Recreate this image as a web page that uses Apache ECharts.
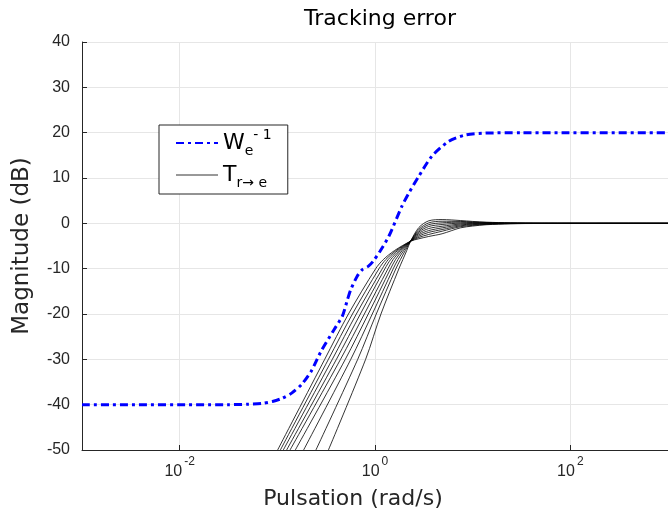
<!DOCTYPE html>
<html><head><meta charset="utf-8">
<script src="https://cdn.jsdelivr.net/npm/echarts@6/dist/echarts.min.js"></script>
<style>html,body{margin:0;padding:0;background:#fff}#c{width:668px;height:515px}</style>
</head><body><div id="c"></div>
<script>
// x axis is log10(pulsation)
const xTickExponents = [-2, 0, 2];
const yTicksInterval = 10;

// W_e^-1 (blue dash-dot): log10(w) and dB
const blueLogW = [-3.0, -1.5, -1.3, -1.15, -1.05, -0.95, -0.85, -0.75, -0.65, -0.554, -0.418, -0.333, -0.283, -0.248, -0.181, -0.130, -0.07, -0.02, 0.05, 0.143, 0.276, 0.347, 0.449, 0.582, 0.755, 0.926, 1.13, 1.5, 3.0];
const blueDb   = [-40, -40, -39.9, -39.7, -39.3, -38.6, -37.4, -35.5, -32.5, -28.3, -23.4, -20.4, -16.9, -14.6, -11.6, -10.2, -9.5, -8.4, -6.2, -2.8, 3.8, 6.7, 10.4, 14.8, 18.1, 19.5, 19.9, 20, 20];

// T_{r->e} family (9 curves): log10(w) where each curve crosses these dB levels
const tLevelsDb = [-50, -30, -20, -10, -8, -6];
const tCrossLogW = [
  [-0.997, -0.515, -0.272, 0.007, 0.085, 0.200],
  [-0.969, -0.477, -0.231, 0.041, 0.110, 0.216],
  [-0.939, -0.437, -0.191, 0.075, 0.135, 0.232],
  [-0.905, -0.395, -0.150, 0.102, 0.160, 0.248],
  [-0.870, -0.353, -0.109, 0.133, 0.185, 0.263],
  [-0.816, -0.304, -0.069, 0.160, 0.210, 0.278],
  [-0.731, -0.248, -0.028, 0.187, 0.235, 0.294],
  [-0.605, -0.177, 0.013, 0.214, 0.260, 0.310],
  [-0.477, -0.096, 0.061, 0.245, 0.285, 0.325]
];
// common crossing point
const tMeetLogW = 0.364;
const tMeetDb = -3.95;
// after the crossing point: dB of each curve at these log10(w)
const tHighLogW = [0.45, 0.55, 0.687, 0.874, 1.0, 1.146, 1.385, 1.7, 3.0];
const tHighDb = [
  [-3.4, -2.9, -2.3, -1.0, -0.6, -0.3, -0.1, -0.03, 0],
  [-3.1, -2.45, -1.74, -0.75, -0.45, -0.22, -0.07, -0.02, 0],
  [-2.8, -2.0, -1.37, -0.55, -0.3, -0.14, -0.04, -0.01, 0],
  [-2.5, -1.6, -1.0, -0.35, -0.18, -0.07, -0.02, 0, 0],
  [-2.2, -1.15, -0.64, -0.15, -0.05, 0, 0, 0, 0],
  [-1.9, -0.7, -0.26, 0.05, 0.07, 0.06, 0.03, 0.01, 0],
  [-1.6, -0.3, 0.11, 0.25, 0.18, 0.12, 0.05, 0.01, 0],
  [-1.3, 0.1, 0.46, 0.42, 0.3, 0.18, 0.07, 0.02, 0],
  [-0.9, 0.55, 0.83, 0.62, 0.42, 0.25, 0.1, 0.02, 0]
];

const chart = echarts.init(document.getElementById('c'), null, {renderer: 'canvas'});
const axisColor = '#262626';
const gridColor = '#e6e6e6';

const series = [];
tCrossLogW.forEach((cross, i) => {
  const pts = cross.map((w, k) => [w, tLevelsDb[k]]);
  pts.push([tMeetLogW, tMeetDb]);
  tHighLogW.forEach((w, k) => pts.push([w, tHighDb[i][k]]));
  series.push({
    name: 'T', type: 'line', data: pts, symbol: 'none', smooth: 0.3,
    lineStyle: {color: '#000', width: 0.8}, itemStyle: {color: '#000'}, z: 2
  });
});
series.push({
  name: 'W', type: 'line', data: blueLogW.map((w, i) => [w, blueDb[i]]),
  symbol: 'none', smooth: 0.25,
  lineStyle: {color: '#0000ff', width: 3, type: [8, 4, 3, 4]}, itemStyle: {color: '#0000ff'}, z: 3
});

chart.setOption({
  animation: false,
  backgroundColor: '#fff',
  title: {
    text: 'Tracking error', left: 375, top: 3, textAlign: 'center',
    textStyle: {fontFamily: 'DejaVu Sans', fontSize: 22, fontWeight: 'normal', color: '#000'}
  },
  grid: {left: 82, right: 0, top: 42, bottom: 64, containLabel: false},
  legend: {
    data: [{name: 'W'}, {name: 'T', lineStyle: {width: 1, color: '#333'}}],
    orient: 'vertical', left: 159, top: 125,
    itemWidth: 42, itemHeight: 14, itemGap: 6,
    padding: [3, 16, 4, 16],
    itemStyle: {opacity: 0},
    backgroundColor: '#fff', borderColor: axisColor, borderWidth: 1,
    formatter: n => n === 'W' ? '{m|W}{sub|e}{sup|- 1}' : '{m|T}{sub|r→ e}',
    textStyle: {
      color: '#000',
      rich: {
        m: {fontFamily: 'DejaVu Sans', fontSize: 22, lineHeight: 30, verticalAlign: 'middle', color: '#000'},
        sub: {fontFamily: 'DejaVu Sans', fontSize: 14, lineHeight: 14, verticalAlign: 'bottom', color: '#000'},
        sup: {fontFamily: 'DejaVu Sans', fontSize: 14, lineHeight: 14, verticalAlign: 'top', color: '#000'}
      }
    }
  },
  xAxis: {
    type: 'value', min: -3, max: 3, interval: 1,
    name: 'Pulsation (rad/s)', nameLocation: 'middle', nameGap: 38,
    nameTextStyle: {fontFamily: 'DejaVu Sans', fontSize: 22, color: axisColor, padding: [0, 44, 0, 0]},
    axisLine: {show: true, onZero: false, lineStyle: {color: axisColor, width: 1}},
    axisTick: {show: true, inside: true, length: 5, customValues: xTickExponents, lineStyle: {color: axisColor}},
    axisLabel: {
      customValues: xTickExponents, margin: 6,
      formatter: v => '{b|10}{s|' + v + '}',
      rich: {
        b: {fontFamily: 'Liberation Sans', fontSize: 16, color: axisColor, lineHeight: 24, verticalAlign: 'bottom'},
        s: {fontFamily: 'Liberation Sans', fontSize: 12, color: axisColor, lineHeight: 12, verticalAlign: 'top', padding: [0, 0, 0, 2]}
      }
    },
    splitLine: {show: true, lineStyle: {color: gridColor, width: 1}}
  },
  yAxis: {
    type: 'value', min: -50, max: 40, interval: yTicksInterval,
    name: 'Magnitude (dB)', nameLocation: 'middle', nameGap: 48,
    nameTextStyle: {fontFamily: 'DejaVu Sans', fontSize: 23, color: axisColor},
    axisLine: {show: true, onZero: false, lineStyle: {color: axisColor, width: 1}},
    axisTick: {show: true, inside: true, length: 5, lineStyle: {color: axisColor}},
    axisLabel: {fontFamily: 'Liberation Sans', fontSize: 16, color: axisColor, margin: 12},
    splitLine: {show: true, lineStyle: {color: gridColor, width: 1}}
  },
  series: series
});
</script></body></html>
